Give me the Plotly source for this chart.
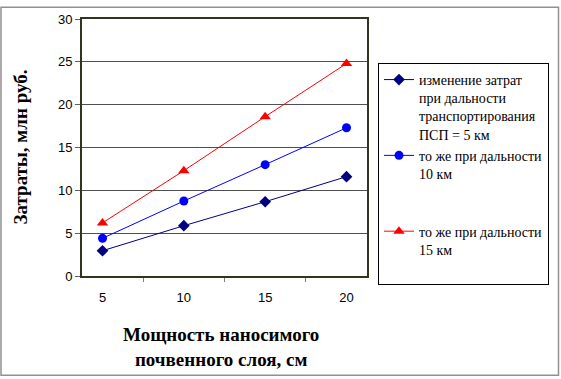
import plotly.graph_objects as go

categories = ["5", "10", "15", "20"]
cost_5km = [2.95, 5.87, 8.67, 11.6]
cost_10km = [4.4, 8.75, 13.0, 17.3]
cost_15km = [6.2, 12.3, 18.6, 24.8]
names = [
    "изменение затрат<br>при дальности<br>транспортирования<br>ПСП = 5 км",
    "то же при дальности<br>10 км<br>\u00a0<br>\u00a0",
    "то же при дальности<br>15 км<br>\u00a0",
]
y_ticks = [0, 5, 10, 15, 20, 25, 30]

SERIF = "Liberation Serif, Times New Roman, serif"
SANS = "Liberation Sans, Arial, sans-serif"

W, H = 561, 379
L, R, T, B = 82, 194, 13, 103
pw, ph = W - L - R, H - T - B

fig = go.Figure()
fig.add_trace(go.Scatter(x=categories, y=cost_5km, name=names[0], mode="lines+markers",
                         line=dict(color="#000080", width=1),
                         marker=dict(symbol="diamond", size=9, color="#000080")))
fig.add_trace(go.Scatter(x=categories, y=cost_10km, name=names[1], mode="lines+markers",
                         line=dict(color="#0000FF", width=1),
                         marker=dict(symbol="circle", size=9, color="#0000FF")))
fig.add_trace(go.Scatter(x=categories, y=cost_15km, name=names[2], mode="lines+markers",
                         line=dict(color="#FF0000", width=1),
                         marker=dict(symbol="triangle-up", size=10, color="#FF0000")))

fig.update_layout(
    width=W, height=H,
    margin=dict(l=L, r=R, t=T, b=B),
    paper_bgcolor="white", plot_bgcolor="white",
    font=dict(family=SERIF, color="black"),
    showlegend=True,
    legend=dict(x=(378 - L) / pw, y=(H - B - 58) / ph, xanchor="left", yanchor="top",
                bordercolor="black", borderwidth=1, bgcolor="white",
                valign="top", tracegroupgap=0,
                font=dict(family=SERIF, size=14, color="black")),
    xaxis=dict(type="category", tickson="boundaries", ticks="outside", ticklen=4,
               tickcolor="#808080", showgrid=False, showline=True, mirror=True,
               linecolor="#333320", linewidth=2, ticklabelstandoff=8,
               tickfont=dict(family=SANS, size=13, color="black")),
    yaxis=dict(range=[0, 30], tickvals=y_ticks, ticks="outside", ticklen=5,
               tickcolor="#606060", showgrid=True, gridcolor="#505050", gridwidth=1,
               showline=True, mirror=True, linecolor="#333320", linewidth=2,
               tickfont=dict(family=SANS, size=13, color="black")),
    annotations=[
        dict(text="<b>Затраты, млн руб.</b>", textangle=-90, xref="paper", yref="paper",
             x=(20 - L) / pw, y=0.5, xanchor="center", yanchor="middle", showarrow=False,
             font=dict(family=SERIF, size=19, color="black")),
        dict(text="<b>Мощность наносимого<br>почвенного слоя, см</b>", xref="paper", yref="paper",
             x=(221 - L) / pw, y=(H - B - 349) / ph, xanchor="center", yanchor="middle",
             showarrow=False,
             font=dict(family=SERIF, size=19, color="black")),
    ],
    shapes=[
        dict(type="rect", xref="paper", yref="paper",
             x0=(1 - L) / pw, x1=(558.5 - L) / pw,
             y0=(H - B - 377.5) / ph, y1=(H - B - 1) / ph,
             line=dict(color="#909090", width=1.5), layer="below"),
    ],
)

fig.write_html("out.html", config={"displayModeBar": False},
               post_script="document.body.style.margin='0';")
